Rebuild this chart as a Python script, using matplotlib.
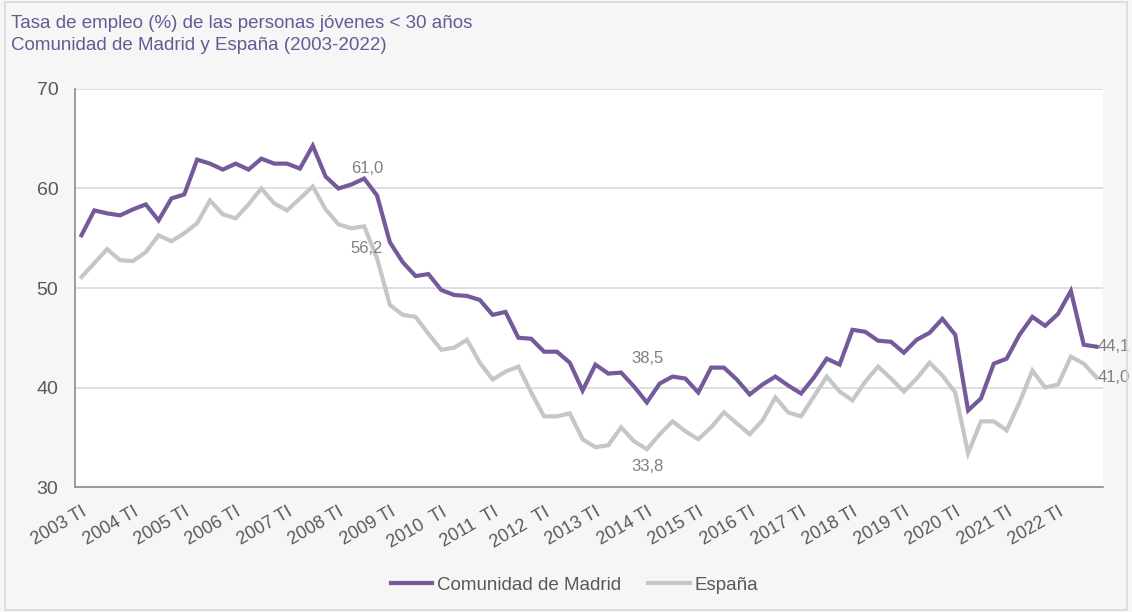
import matplotlib
matplotlib.use("Agg")
import matplotlib.pyplot as plt
import matplotlib.patches as patches
import numpy as np

# Quarterly series, 2003 TI .. 2022 TIV
years = list(range(2003, 2023))
madrid = [
    55.3, 57.8, 57.5, 57.3, 57.9, 58.4, 56.8, 59.0,   # 2003-2004
    59.4, 62.9, 62.5, 61.9, 62.5, 61.9, 63.0, 62.5,   # 2005-2006
    62.5, 62.0, 64.3, 61.2, 60.0, 60.4, 61.0, 59.3,   # 2007-2008
    54.6, 52.6, 51.2, 51.4, 49.8, 49.3, 49.2, 48.8,   # 2009-2010
    47.3, 47.6, 45.0, 44.9, 43.6, 43.6, 42.5, 39.7,   # 2011-2012
    42.3, 41.4, 41.5, 40.1, 38.5, 40.4, 41.1, 40.9,   # 2013-2014
    39.5, 42.0, 42.0, 40.8, 39.3, 40.3, 41.1, 40.2,   # 2015-2016
    39.4, 41.0, 42.9, 42.3, 45.8, 45.6, 44.7, 44.6,   # 2017-2018
    43.5, 44.8, 45.5, 46.9, 45.3, 37.7, 38.9, 42.4,   # 2019-2020
    42.9, 45.3, 47.1, 46.2, 47.4, 49.7, 44.3, 44.1,   # 2021-2022
]
espana = [
    51.1, 52.5, 53.9, 52.8, 52.7, 53.6, 55.3, 54.7,
    55.5, 56.5, 58.8, 57.4, 57.0, 58.4, 60.0, 58.5,
    57.8, 59.0, 60.2, 57.9, 56.4, 56.0, 56.2, 53.0,
    48.3, 47.3, 47.1, 45.4, 43.8, 44.0, 44.8, 42.5,
    40.8, 41.6, 42.1, 39.5, 37.1, 37.1, 37.4, 34.8,
    34.0, 34.2, 36.0, 34.6, 33.8, 35.3, 36.6, 35.6,
    34.8, 36.0, 37.5, 36.4, 35.3, 36.7, 39.0, 37.5,
    37.1, 39.1, 41.1, 39.6, 38.7, 40.6, 42.1, 40.9,
    39.6, 40.9, 42.5, 41.2, 39.5, 33.4, 36.6, 36.6,
    35.7, 38.5, 41.7, 40.0, 40.3, 43.1, 42.4, 41.0,
]
tick_labels = [f"{y}  TI" if y in (2010, 2011, 2012) else f"{y} TI" for y in years]
series_names = ["Comunidad de Madrid", "España"]
# labelled points: series index, quarter index
labels_at = [(0, 22), (1, 22), (0, 44), (1, 44), (0, 79), (1, 79)]
# label offsets in pixels (dx, dy) and alignment
label_offsets = [(3, 10, "center"), (2, -22, "center"), (1, 44, "center"),
                 (1, -17, "center"), (1, 0, "left"), (1, 0, "left")]

purple = "#76599b"
grey_line = "#c6c6c6"
text_grey = "#595959"
label_grey = "#7f7f7f"
title_purple = "#6a5893"

plt.rcParams['font.family'] = ['Liberation Sans', 'DejaVu Sans']

fig = plt.figure(figsize=(11.32, 6.12), dpi=100)
fig.patch.set_facecolor("#f6f6f6")
fig.patches.append(patches.Rectangle((0.004, 0.003), 0.992, 0.993, transform=fig.transFigure,
                                     fill=False, edgecolor="#d9d9d9", linewidth=1.2))

ax = fig.add_axes([0.0663, 0.2042, 0.9081, 0.6504])
ax.set_facecolor("white")

x = np.arange(len(madrid))
ax.plot(x, madrid, color=purple, linewidth=3.0, solid_joinstyle="miter", label=series_names[0], zorder=3)
ax.plot(x, espana, color=grey_line, linewidth=3.0, solid_joinstyle="miter", label=series_names[1], zorder=2)

ax.set_xlim(-0.5, len(madrid) - 0.5)
ax.set_ylim(30, 70)
ax.set_yticks([30, 40, 50, 60, 70])
ax.grid(axis="y", color="#d9d9d9", linewidth=1.2, zorder=0)
ax.set_axisbelow(True)

ax.set_xticks(x[::4])
ax.set_xticklabels(tick_labels, rotation=30, ha="right", rotation_mode="anchor")
ax.tick_params(axis="x", length=0, pad=12, labelsize=13, labelcolor=text_grey)
ax.tick_params(axis="y", length=0, pad=12, labelsize=14, labelcolor=text_grey)

for side in ("top", "right"):
    ax.spines[side].set_visible(False)
for side in ("left", "bottom"):
    ax.spines[side].set_color("#8c8c8c")
    ax.spines[side].set_linewidth(1.2)

data = [madrid, espana]
px = 0.72  # points per pixel at 100 dpi
for (s, i), (dx, dy, ha) in zip(labels_at, label_offsets):
    v = data[s][i]
    txt = f"{v:.1f}".replace(".", ",")
    ax.annotate(txt, (i, v), xytext=(dx * px, dy * px), textcoords="offset points",
                ha=ha, va="center", fontsize=12, color=label_grey,
                annotation_clip=False)

fig.text(0.0095, 0.961, "Tasa de empleo (%) de las personas jóvenes < 30 años",
         ha="left", va="center", fontsize=13.5, color=title_purple)
fig.text(0.0095, 0.925, "Comunidad de Madrid y España (2003-2022)",
         ha="left", va="center", fontsize=13.5, color=title_purple)

fig.legend(loc="center", bbox_to_anchor=(0.5076, 0.044), ncol=2, frameon=False,
           fontsize=13.5, labelcolor=text_grey, handlelength=2.2, columnspacing=1.45,
           handletextpad=0.25)

fig.savefig("out.png", dpi=100, facecolor=fig.get_facecolor())
